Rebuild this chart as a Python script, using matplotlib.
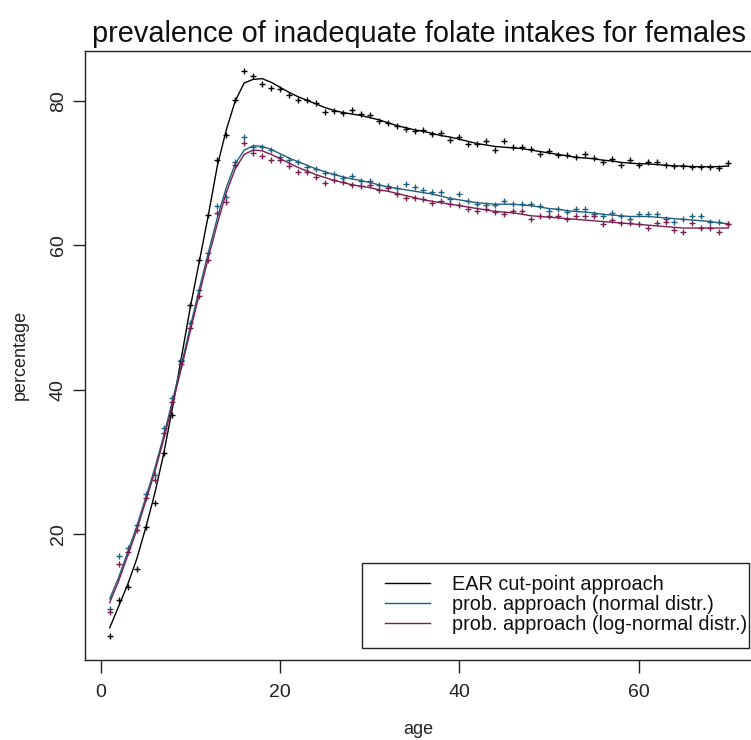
import matplotlib
matplotlib.use("Agg")
import matplotlib.pyplot as plt
from matplotlib.lines import Line2D
from matplotlib.patches import Rectangle

plt.rcParams['font.family'] = ['Liberation Sans', 'DejaVu Sans']

# ---------------- data ----------------
ages = list(range(1, 71))

ear_points = [5.9, 10.8, 12.7, 15.2, 21.0, 24.3, 31.2, 36.5, 44.0, 51.7,
              58.0, 64.2, 71.8, 75.3, 80.1, 84.2, 83.4, 82.4, 81.8, 81.7,
              80.8, 80.1, 80.2, 79.7, 78.5, 78.6, 78.4, 78.8, 78.2, 78.0,
              77.2, 77.0, 76.5, 76.1, 75.8, 76.0, 75.4, 75.5, 74.6, 75.0,
              74.0, 74.0, 74.4, 73.2, 74.4, 73.6, 73.6, 73.3, 72.7, 73.1,
              72.5, 72.5, 72.2, 72.7, 72.1, 71.5, 71.9, 71.1, 71.8, 71.1,
              71.5, 71.6, 71.1, 71.0, 71.0, 70.9, 70.9, 70.9, 70.7, 71.4]

normal_points = [9.6, 17.0, 18.0, 21.2, 25.6, 28.2, 34.7, 38.8, 44.1, 49.2,
                 53.8, 58.9, 65.4, 66.7, 71.6, 75.0, 73.6, 73.6, 73.2, 72.3,
                 71.8, 71.6, 70.9, 70.6, 70.0, 69.9, 69.3, 69.6, 68.9, 68.9,
                 68.4, 68.2, 67.9, 68.5, 68.1, 67.6, 67.4, 67.4, 66.4, 67.1,
                 66.1, 65.7, 65.6, 65.6, 66.2, 65.7, 65.7, 65.7, 65.4, 64.8,
                 65.1, 64.6, 65.0, 65.0, 64.4, 64.1, 64.5, 64.0, 63.7, 64.3,
                 64.3, 64.3, 63.7, 63.2, 63.7, 64.1, 64.1, 63.3, 63.3, 63.0]

lognormal_points = [9.2, 15.8, 17.5, 20.5, 25.0, 27.5, 34.0, 38.3, 43.5, 48.5,
                    53.0, 58.0, 64.5, 66.0, 71.1, 74.2, 72.8, 72.4, 71.8, 71.8,
                    71.0, 70.2, 70.1, 69.5, 68.6, 69.0, 68.8, 68.4, 68.2, 68.4,
                    67.6, 68.0, 67.1, 66.6, 66.5, 66.4, 65.8, 66.1, 65.7, 65.6,
                    65.1, 64.7, 65.0, 64.6, 64.4, 64.7, 64.7, 63.6, 64.0, 64.0,
                    64.0, 63.7, 64.0, 64.0, 64.1, 62.9, 63.5, 63.1, 63.1, 62.9,
                    62.4, 63.1, 63.3, 62.1, 61.9, 63.1, 62.4, 62.4, 61.9, 62.9]

ear_smooth = [7.0, 10.0, 13.0, 16.5, 20.8, 25.5, 31.0, 37.5, 44.5, 51.5,
              57.8, 64.2, 71.0, 76.0, 80.0, 82.5, 83.0, 83.1, 82.6, 81.9,
              81.2, 80.6, 80.1, 79.6, 79.1, 78.7, 78.4, 78.2, 78.0, 77.7,
              77.4, 77.0, 76.6, 76.3, 76.0, 75.8, 75.5, 75.2, 75.0, 74.7,
              74.4, 74.1, 73.9, 73.7, 73.6, 73.5, 73.4, 73.2, 73.0, 72.8,
              72.6, 72.4, 72.2, 72.1, 72.0, 71.8, 71.7, 71.5, 71.4, 71.3,
              71.3, 71.2, 71.1, 71.0, 71.0, 70.9, 70.9, 70.9, 70.9, 71.0]

normal_smooth = [11.0, 14.0, 17.5, 21.0, 25.0, 29.0, 33.5, 38.5, 43.5, 48.8,
                 54.0, 59.0, 63.8, 68.0, 71.3, 73.2, 73.8, 73.7, 73.3, 72.7,
                 72.1, 71.6, 71.1, 70.6, 70.2, 69.8, 69.5, 69.2, 69.0, 68.7,
                 68.4, 68.1, 67.9, 67.7, 67.5, 67.3, 67.1, 66.8, 66.5, 66.3,
                 66.1, 65.9, 65.8, 65.7, 65.7, 65.7, 65.6, 65.5, 65.3, 65.1,
                 65.0, 64.8, 64.7, 64.6, 64.5, 64.3, 64.2, 64.1, 64.0, 64.0,
                 64.0, 63.9, 63.8, 63.7, 63.6, 63.5, 63.4, 63.3, 63.1, 63.0]

lognormal_smooth = [10.5, 13.5, 17.0, 20.5, 24.5, 28.5, 33.0, 38.0, 43.0, 48.2,
                    53.3, 58.3, 63.0, 67.3, 70.6, 72.6, 73.2, 73.1, 72.6, 72.0,
                    71.4, 70.8, 70.3, 69.8, 69.4, 69.0, 68.7, 68.4, 68.2, 68.0,
                    67.7, 67.5, 67.2, 66.9, 66.6, 66.3, 66.1, 65.9, 65.7, 65.5,
                    65.3, 65.1, 64.9, 64.7, 64.6, 64.5, 64.3, 64.1, 64.0, 63.9,
                    63.8, 63.7, 63.6, 63.5, 63.4, 63.3, 63.2, 63.1, 63.0, 62.9,
                    62.8, 62.7, 62.6, 62.5, 62.4, 62.4, 62.4, 62.4, 62.4, 62.4]

series_labels = ["EAR cut-point approach",
                 "prob. approach (normal distr.)",
                 "prob. approach (log-normal distr.)"]
series_colors = ["#000000", "#1f5f80", "#7a1f50"]

x_ticks = [0, 20, 40, 60]
y_ticks = [20, 40, 60, 80]
title = "prevalence of inadequate folate intakes for females"

# ---------------- figure ----------------
W, H = 751, 740
fig = plt.figure(figsize=(W / 100, H / 100), dpi=100)
left_px, right_px, top_px, bottom_px = 85, 753, 51, 660
ax = fig.add_axes([left_px / W, 1 - bottom_px / H,
                   (right_px - left_px) / W, (bottom_px - top_px) / H])

points = [ear_points, normal_points, lognormal_points]
smooths = [ear_smooth, normal_smooth, lognormal_smooth]
for pts, sm, col in zip(points, smooths, series_colors):
    ax.plot(ages, pts, linestyle='none', marker='+', markersize=5,
            markeredgewidth=1.0, color=col)
    ax.plot(ages, sm, color=col, linewidth=1.0)

ax.set_xlim(-1.76, 72.76)
ax.set_ylim(2.54, 86.93)
ax.set_xticks(x_ticks)
ax.set_yticks(y_ticks)
ax.set_xticklabels([str(t) for t in x_ticks], fontsize=14)
ax.set_yticklabels([str(t) for t in y_ticks], fontsize=14,
                   rotation=90, va='center')
ax.tick_params(direction='out', length=9, width=1, color='#222222',
               labelcolor='#222222')
ax.tick_params(axis='x', pad=8)
ax.tick_params(axis='y', pad=4)
for s in ax.spines.values():
    s.set_linewidth(1.0)
    s.set_color('#222222')

fig.text(419 / W, 1 - 34 / H, title, fontsize=20.8, ha='center', va='center',
         color='#111111')
fig.text(418 / W, 1 - 730 / H, "age", fontsize=13, ha='center', va='center',
         color='#222222')
fig.text(20 / W, 1 - 355 / H, "percentage", fontsize=13, ha='center',
         va='center', rotation=90, color='#222222')

# legend (drawn manually, figure pixel coordinates)
def fx(px):
    return px / W

def fy(py):
    return 1 - py / H

fig.patches.append(Rectangle((fx(362), fy(648)), fx(749) - fx(362),
                             fy(563) - fy(648), transform=fig.transFigure,
                             fill=False, edgecolor='#222222', linewidth=1.0))
row_y = [583, 603, 623]
for lab, col, ry in zip(series_labels, series_colors, row_y):
    fig.lines.append(Line2D([fx(385), fx(430)], [fy(ry), fy(ry)],
                            transform=fig.transFigure, color=col,
                            linewidth=1.0))
    fig.text(fx(452), fy(ry + 1), lab, fontsize=14.3, ha='left', va='center',
             color='#111111')

fig.savefig("out.png", dpi=100)
